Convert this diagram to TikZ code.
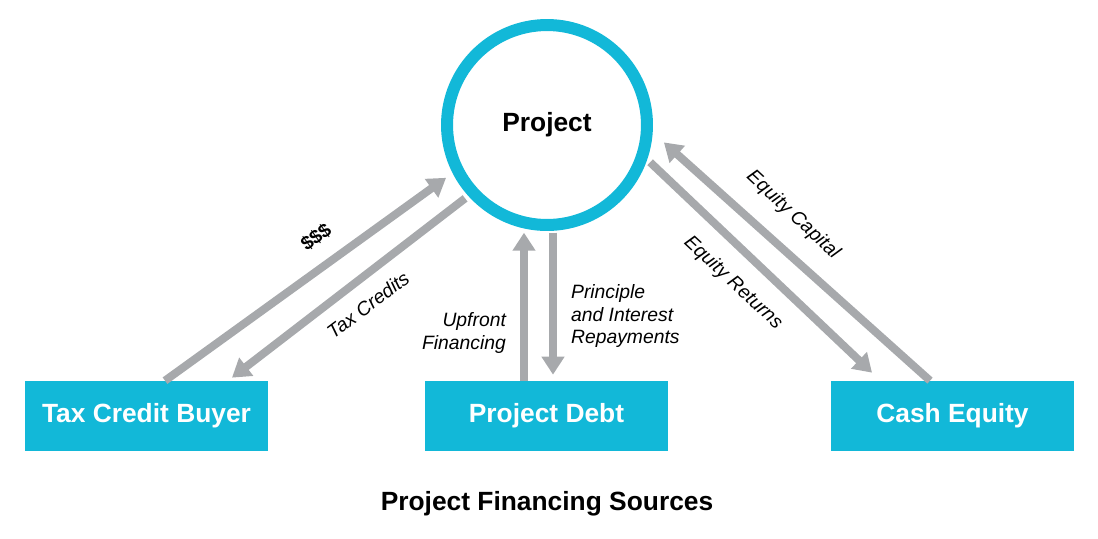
\documentclass[tikz,border=0pt]{standalone}
\usepackage{fontspec}
\setmainfont{Liberation Sans}
\usetikzlibrary{positioning, calc, arrows.meta}
\definecolor{projcyan}{HTML}{12B8D8}
\definecolor{flowgray}{HTML}{A7A9AC}
\tikzset{
    sourcebox/.style={fill=projcyan, text=white, font=\bfseries\fontsize{15}{17}\selectfont,
        minimum width=4.86cm, minimum height=1.4cm, inner sep=0pt},
    flow/.style={draw=flowgray, line width=0.16cm, -{Triangle[length=0.36cm, width=0.44cm]}},
    flowlabel/.style={font=\itshape\fontsize{11}{13}\selectfont, inner sep=1pt}
}
\begin{document}
\begin{tikzpicture}[x=0.02cm, y=-0.02cm]
    % Canvas
    \useasboundingbox (0,0) rectangle (1098,538);

    % Project circle and the three sources
    \node[circle, draw=projcyan, line width=0.24cm, minimum size=4cm, fill=white,
        font=\bfseries\fontsize{15}{17}\selectfont] (proj) at (547,125) {Project};
    \node[sourcebox] (tcb) at (146.5,416) {Tax Credit Buyer};
    \node[sourcebox] (debt) at (546.5,416) {Project Debt};
    \node[sourcebox] (ce) at (952.5,416) {Cash Equity};
    \node[font=\bfseries\fontsize{15}{17}\selectfont] (title) at (547,504) {Project Financing Sources};

    % Tax credit buyer flows
    \draw[flow, shorten >=0.16cm] ([xshift=0.37cm]tcb.north) -- (proj.207);
    \draw[flow, shorten <=0.08cm] (proj.222) -- ([xshift=1.71cm, yshift=0.06cm]tcb.north);
    \node[rotate=36, font=\bfseries\fontsize{11}{13}\selectfont] (money) at (316,237) {\$\$\$};
    \node[rotate=37, flowlabel] (credits) at (368,305) {Tax Credits};

    % Debt flows
    \draw[flow] ([xshift=-0.45cm]debt.north) -- ++(0,2.96cm);
    \draw[flow] ([xshift=0.13cm, yshift=2.96cm]debt.north) -- ([xshift=0.13cm, yshift=0.12cm]debt.north);
    \node[flowlabel, align=right, anchor=east] (upfront) at (508,333) {Upfront\\Financing};
    \node[flowlabel, align=left, anchor=west] (repay) at (569,316) {Principle\\and Interest\\Repayments};

    % Equity flows
    \draw[flow, shorten >=0.3cm] ([xshift=-0.45cm]ce.north) -- (proj.-4);
    \draw[flow, shorten <=0.08cm] (proj.-19) -- ([xshift=-1.61cm, yshift=0.16cm]ce.north);
    \node[rotate=-43, flowlabel] (capital) at (793,215) {Equity Capital};
    \node[rotate=-43, flowlabel] (returns) at (733,283) {Equity Returns};
\end{tikzpicture}
\end{document}
